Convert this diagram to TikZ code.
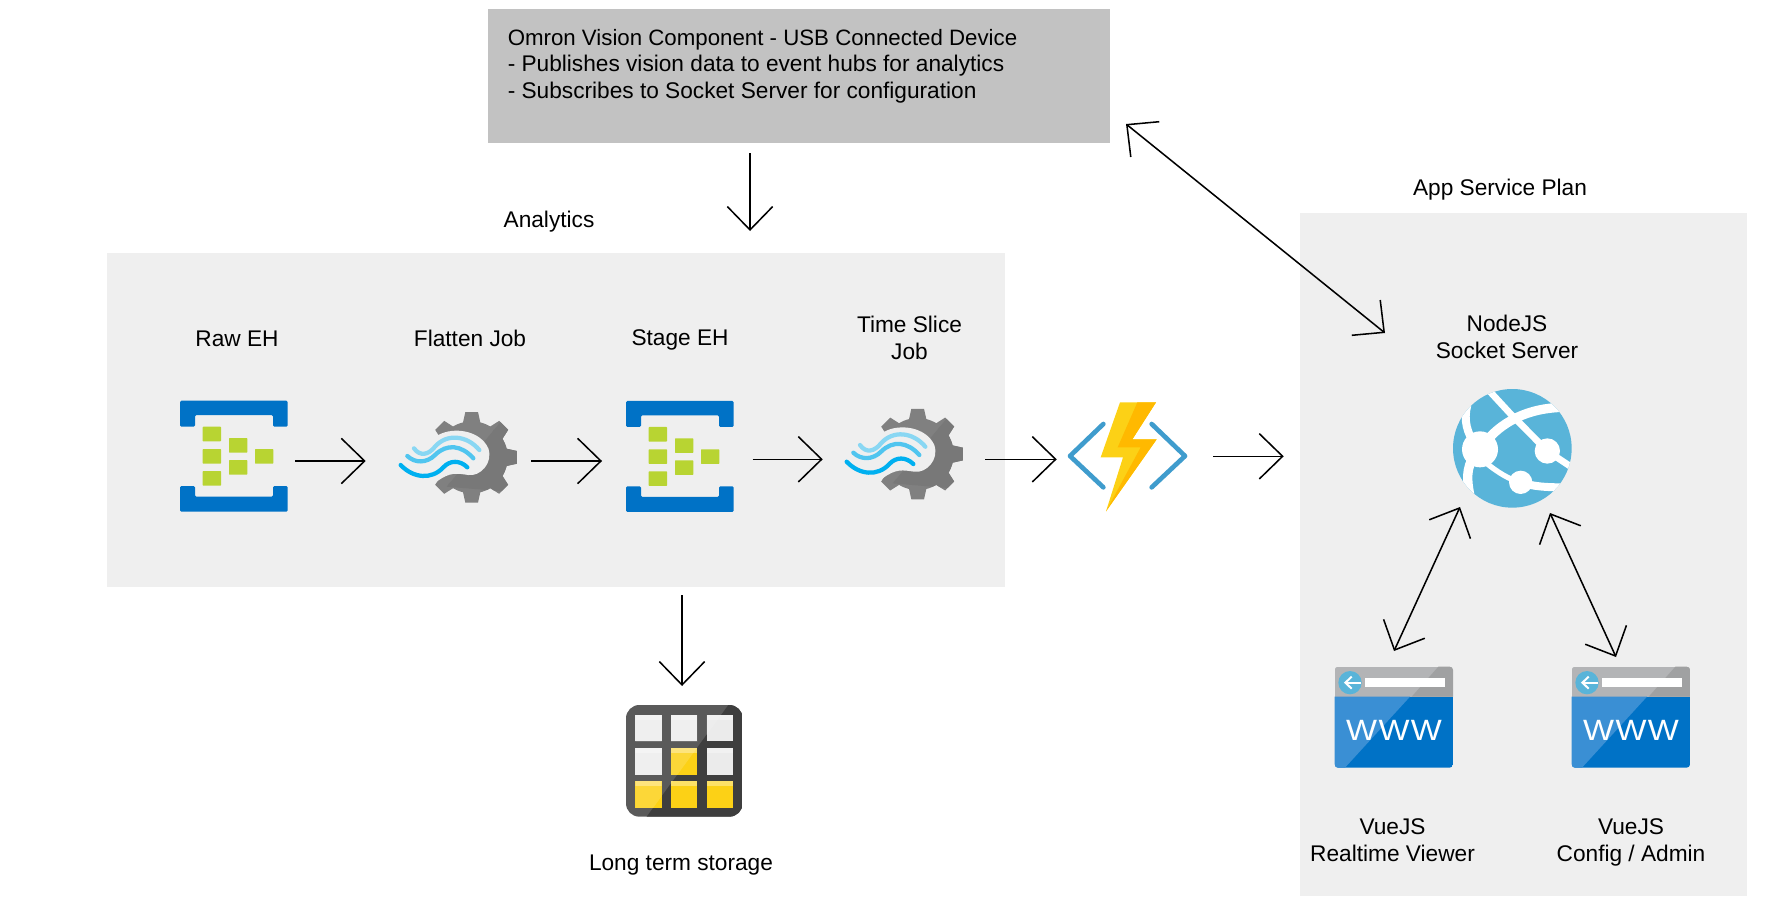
\documentclass[tikz,border=0pt]{standalone}
\usepackage{fontspec}
\setmainfont{Liberation Sans}
\newfontfamily\wwwfont[FakeStretch=1.12,LetterSpace=5]{Liberation Sans}
\usetikzlibrary{arrows.meta}
\definecolor{panelgray}{HTML}{EFEFEF}
\definecolor{topgray}{HTML}{C2C2C2}
\definecolor{azureblue}{HTML}{0072C6}
\definecolor{azurelight}{HTML}{3A8FD4}
\definecolor{ehgreen}{HTML}{B8D432}
\definecolor{globeblue}{HTML}{59B4D9}
\definecolor{boltyellow}{HTML}{FCD116}
\definecolor{boltorange}{HTML}{FFB900}
\definecolor{bracketblue}{HTML}{3F9CCD}
\definecolor{waveone}{HTML}{89D7F3}
\definecolor{wavetwo}{HTML}{50C5EF}
\definecolor{wavethree}{HTML}{00B0F0}
\definecolor{barlight}{HTML}{B3B4B6}
\definecolor{bardark}{HTML}{A0A1A2}
\definecolor{storelight}{HTML}{5A5A5A}
\definecolor{storedark}{HTML}{3E3E3E}
\newcommand{\gearbody}[1]{%
	\fill [#1] (935,232) circle [radius=108];
	\foreach \a in {0,45,...,315}
		\fill [#1] ([shift={(935,232)}]\a-15:104) -- ([shift={(935,232)}]\a-8:137) -- ([shift={(935,232)}]\a+8:137) -- ([shift={(935,232)}]\a+15:104) -- cycle;
}
\tikzset{
	eventhub/.pic={
		\begin{scope}[x=.25pt,y=-.25pt]
			\fill [azureblue,rounded corners=1pt] (60,62) -- (383,62) -- (383,140) -- (339,140) -- (339,105) -- (105,105) -- (105,140) -- (60,140) -- cycle;
			\fill [azureblue,rounded corners=1pt] (60,318) -- (105,318) -- (105,350) -- (339,350) -- (339,318) -- (383,318) -- (383,395) -- (60,395) -- cycle;
			\foreach \x/\y in {128/140,128/207,128/273,207/174,207/240,285/207}
				\fill [ehgreen,rounded corners=.5pt] (\x,\y) rectangle ++(55,44);
		\end{scope}
	},
	streamjob/.pic={
		\begin{scope}[x=.25pt,y=-.25pt]
			\gearbody{black!50}
			\begin{scope}
				\clip (1060,80) -- (1100,340) -- (860,320) -- cycle;
				\gearbody{black!53}
			\end{scope}
			%%cut-out under the waves
			\fill [panelgray] (835,165) .. controls (880,140) and (960,150) .. (985,205) .. controls (1000,250) and (960,290) .. (925,285) .. controls (890,280) and (870,275) .. (830,305) -- (700,305) -- (700,165) -- cycle;
			\draw [line width=3.2pt,line cap=round,waveone] (762,205) .. controls (780,230) and (805,225) .. (825,200) .. controls (860,160) and (920,165) .. (958,210);
			\draw [line width=3.2pt,line cap=round,wavetwo] (742,228) .. controls (765,250) and (800,250) .. (825,225) .. controls (860,190) and (905,195) .. (940,235);
			\draw [line width=3.2pt,line cap=round,wavethree] (722,255) .. controls (760,295) and (815,300) .. (850,262) .. controls (870,240) and (900,240) .. (922,262);
		\end{scope}
	},
	functionapp/.pic={
		\begin{scope}[x=.25pt,y=-.25pt]
			\draw [line width=3.5pt,line cap=round,line join=round,bracketblue] (160,102) -- (60,198) -- (160,292);
			\draw [line width=3.5pt,line cap=round,line join=round,bracketblue] (305,102) -- (405,198) -- (305,292);
			\fill [boltyellow] (210,37) -- (318,37) -- (247,148) -- (320,148) -- (168,364) -- (219,202) -- (152,202) -- cycle;
			\fill [boltorange] (262,37) -- (318,37) -- (247,148) -- (320,148) -- (168,364) -- (272,172) -- (203,172) -- cycle;
		\end{scope}
	},
	webapp/.pic={
		\begin{scope}[x=.25pt,y=-.25pt]
			\fill [globeblue] (577,235) circle [radius=178];
			\begin{scope}
				\clip (577,235) circle [radius=178];
				\draw [white,line width=5pt] (510,65) -- (570,130) -- (682,243) -- (760,295);
				\draw [white,line width=7pt] (480,238) .. controls (540,150) and (630,115) .. (725,112);
				\draw [white,line width=6pt] (442,105) .. controls (430,150) and (440,190) .. (470,230);
				\draw [white,line width=7pt] (455,270) .. controls (435,310) and (445,350) .. (450,380);
				\draw [white,line width=4pt] (500,280) .. controls (530,305) and (570,330) .. (602,337);
				\draw [white,line width=6pt] (602,337) .. controls (640,350) and (680,352) .. (730,352);
			\end{scope}
			\fill [white] (480,238) circle [radius=54];
			\fill [white] (682,243) circle [radius=38];
			\fill [white] (602,337) circle [radius=35];
		\end{scope}
	},
	webpage/.pic={
		\begin{scope}[x=.25pt,y=-.25pt]
			\begin{scope}
				\clip [rounded corners=2.5pt] (44,890) rectangle (399,1193);
				\fill [barlight] (44,890) rectangle (399,980);
				\fill [bardark] (355,890) -- (399,890) -- (399,980) -- (275,980) -- cycle;
				\fill [azureblue] (44,980) rectangle (399,1193);
				\fill [azurelight] (44,980) -- (270,980) -- (75,1193) -- (44,1193) -- cycle;
			\end{scope}
			\fill [globeblue] (90,938) circle [radius=35];
			\draw [white,line width=1.5pt] (124,938) -- (78,938);
			\draw [white,line width=1.5pt] (95,920) -- (76,938) -- (95,956);
			\fill [white] (135,925) rectangle (375,952);
			\node [white,inner sep=0pt,font=\fontsize{22}{22}\wwwfont] (-label) at (222,1082) {WWW};
		\end{scope}
	},
	longstore/.pic={
		\begin{scope}[x=.25pt,y=-.25pt]
			\begin{scope}
				\clip [rounded corners=10pt] (78,45) rectangle (428,380);
				\fill [storelight] (78,45) rectangle (428,380);
				\fill [storedark] (385,45) -- (428,45) -- (428,380) -- (140,380) -- cycle;
			\end{scope}
			\foreach \x/\y/\c in {106/75/black!7,213/75/black!7,320/75/black!8,106/175/black!7,213/175/boltyellow,320/175/black!8,106/274/boltyellow,213/274/boltyellow,320/274/boltyellow}{
				\fill [\c] (\x,\y) rectangle ++(79,79);
				\begin{scope}
					\clip (\x,\y) rectangle ++(79,79);
					\fill [white,opacity=.15] (385,45) -- (140,380) -- (78,380) -- (78,45) -- cycle;
					\fill [white,opacity=.35] (\x,\y) rectangle ++(79,15);
				\end{scope}
			}
		\end{scope}
	}
}
\begin{document}
\begin{tikzpicture} [x=.75pt,y=-.75pt,{panel/.style={rectangle,fill=panelgray,inner sep=0pt}},{hitbox/.style={rectangle,inner sep=0pt,minimum height=60pt}},{lbl/.style={inner sep=0pt,align=center,font=\fontsize{17}{20.2}\selectfont}},{link/.style={-{Straight Barb[length=17.5pt,width=34pt]},line width=1.15pt,black}},{duplex/.style={{Straight Barb[length=17.5pt,width=34pt]}-{Straight Barb[length=17.5pt,width=34pt]},line width=1.15pt,black}}]
	\useasboundingbox (0,0) rectangle (1765,910);
	%%panels
	\node [panel,fill=topgray,minimum width=466.5pt,minimum height=100.5pt] (omronBox) at (799.2,76) {};
	\node [panel,minimum width=673.5pt,minimum height=250.5pt] (analyticsPanel) at (556,420) {};
	\node [panel,minimum width=335pt,minimum height=512pt] (appPlan) at (1523.3,554.5) {};
	%%labels
	\node [lbl,align=left,anchor=north west,font=\fontsize{16.7}{19.9}\selectfont] (omronText) at (507.5,29) {Omron Vision Component - USB Connected Device\\\fontsize{17}{19.9}\selectfont - Publishes vision data to event hubs for analytics\\\fontsize{17}{19.9}\selectfont - Subscribes to Socket Server for configuration};
	\node [lbl] (analyticsLabel) at (549,222) {Analytics};
	\node [lbl] (planLabel) at (1500,189.5) {App Service Plan};
	\node [lbl] (rawLabel) at (237,339) {Raw EH};
	\node [lbl] (flattenLabel) at (470,338) {Flatten Job};
	\node [lbl] (stageLabel) at (680,340) {Stage EH};
	\node [lbl] (sliceLabel) at (909.5,338) {Time Slice\\Job};
	\node [lbl] (nodeLabel) at (1507,337) {NodeJS\\Socket Server};
	\node [lbl] (viewerLabel) at (1392.5,840.5) {VueJS\\Realtime Viewer};
	\node [lbl] (adminLabel) at (1631,842) {VueJS\\Config / Admin};
	\node [lbl] (storageLabel) at (681,865) {Long term storage};
	%%icons
	\pic at (160,380) {eventhub};
	\pic at (160,380) {streamjob};
	\pic at (606,380.3) {eventhub};
	\pic at (606,376.7) {streamjob};
	\pic at (1050,390) {functionapp};
	\pic at (1320,370) {webapp};
	\pic (viewerIcon) at (1320,370) {webpage};
	\pic (adminIcon) at (1557,370) {webpage};
	\pic at (600,690) {longstore};
	%%boxes round the icons, their sides are the ends of the arrows
	\node [hitbox,minimum width=91.5pt] (rawEH) at (234,461) {};
	\node [hitbox,minimum width=123.75pt] (flattenJob) at (448.5,461) {};
	\node [hitbox,minimum width=112.5pt] (stageEH) at (677.3,459.3) {};
	\node [hitbox,minimum width=121.5pt] (sliceJob) at (904,459.3) {};
	\node [hitbox,minimum width=117pt] (functionApp) at (1135,456.3) {};
	%%free ends
	\coordinate (omronOut) at (750,153);
	\coordinate (analyticsIn) at (750,231);
	\coordinate (analyticsOut) at (682,595);
	\coordinate (storageIn) at (682,686);
	\coordinate (omronPort) at (1126,124);
	\coordinate (socketPort) at (1385,333);
	\coordinate (socketPortA) at (1460,507);
	\coordinate (viewerPort) at (1394,651);
	\coordinate (socketPortB) at (1550,513);
	\coordinate (adminPort) at (1616,657);
	%%arrows
	\draw [link] (omronOut) -- (analyticsIn);
	\draw [link] (analyticsOut) -- (storageIn);
	\draw [link] (rawEH.east) -- (flattenJob.west);
	\draw [link] (flattenJob.east) -- (flattenJob.east -| stageEH.west);
	\draw [link] (stageEH.east) -- (sliceJob.west);
	\draw [link] (sliceJob.east) -- (sliceJob.east -| functionApp.west);
	\draw [link,shorten >=12pt] (functionApp.east) -- (functionApp.east -| appPlan.west);
	\draw [duplex] (omronPort) -- (socketPort);
	\draw [duplex] (socketPortA) -- (viewerPort);
	\draw [duplex] (socketPortB) -- (adminPort);
\end{tikzpicture}
\end{document}
